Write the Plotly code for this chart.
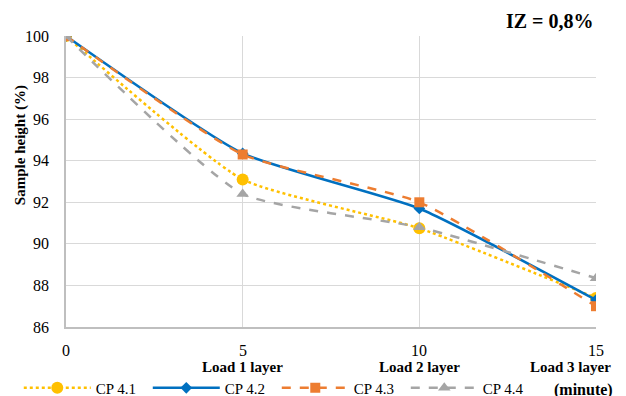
import plotly.graph_objects as go

time_min = [0, 5, 10, 15]
x_tick_labels = ["0", "5", "10", "15"]
y_tick_vals = [86, 88, 90, 92, 94, 96, 98, 100]
load_labels = ["Load 1 layer", "Load 2 layer", "Load 3 layer"]
load_times = [5, 10, 15]
cp41 = [100, 93.1, 90.75, 87.4]
cp42 = [100, 94.35, 91.7, 87.3]
cp43 = [100, 94.3, 92.0, 87.0]
cp44 = [100, 92.4, 90.8, 88.35]

series = [
    ("CP 4.1", cp41, "#FFC000", "dot", "circle", 12),
    ("CP 4.2", cp42, "#0070C0", "solid", "diamond", 9),
    ("CP 4.3", cp43, "#ED7D31", "dash", "square", 10),
    ("CP 4.4", cp44, "#A5A5A5", "dash", "triangle-up", 11),
]

fig = go.Figure()
for name, vals, color, dash, sym, size in series:
    fig.add_trace(go.Scatter(
        x=time_min, y=vals, name=name, mode="lines+markers",
        line=dict(color=color, width=2.5, dash=dash, shape="spline", smoothing=0.5),
        marker=dict(symbol=sym, size=size, color=color),
    ))

FF = "Times New Roman"
annotations = [
    dict(text="<b>IZ = 0,8%</b>", xref="paper", yref="paper", x=1.0, y=1.0,
         xanchor="right", yanchor="bottom", yshift=2, showarrow=False,
         font=dict(size=20, family=FF, color="black")),
    dict(text="<b>(minute)</b>", xref="paper", yref="paper", x=1.036, y=-0.18,
         xanchor="right", yanchor="top", showarrow=False,
         font=dict(size=16, family=FF, color="black")),
    dict(text="<b>Sample height (%)</b>", xref="paper", yref="paper", x=0, y=0.625,
         xanchor="center", yanchor="middle", xshift=-46, textangle=-90, showarrow=False,
         font=dict(size=15, family=FF, color="black")),
]
for t, lab in zip(load_times, load_labels):
    annotations.append(dict(
        text="<b>" + lab + "</b>", xref="x", yref="paper", x=t, y=0,
        xanchor="center", yanchor="middle", yshift=-40,
        xshift=-26 if t == 15 else 0, showarrow=False,
        font=dict(size=15, family=FF, color="black")))
for t, lab in zip(time_min, x_tick_labels):
    annotations.append(dict(
        text=lab, xref="x", yref="paper", x=t, y=0,
        xanchor="center", yanchor="middle", yshift=-23, showarrow=False,
        font=dict(size=16, family=FF, color="black")))
for v in y_tick_vals:
    annotations.append(dict(
        text=str(v), xref="paper", yref="y", x=0, y=v,
        xanchor="right", yanchor="middle", xshift=-15, showarrow=False,
        font=dict(size=16, family=FF, color="black")))

fig.update_layout(
    width=626, height=396,
    margin=dict(l=66, r=30, t=36, b=69, autoexpand=False),
    paper_bgcolor="white", plot_bgcolor="white",
    font=dict(family=FF, size=15, color="black"),
    showlegend=True,
    legend=dict(orientation="h", x=0.03, xanchor="left", xref="container",
                y=0.02, yanchor="middle", yref="container",
                font=dict(size=15, family=FF, color="black"), itemwidth=67,
                entrywidth=47, entrywidthmode="pixels",
                tracegroupgap=0, bgcolor="rgba(0,0,0,0)"),
    xaxis=dict(range=[0, 15], tickmode="array", tickvals=time_min, showticklabels=False,
               showgrid=True, gridcolor="#D9D9D9", gridwidth=1,
               showline=True, linecolor="#BFBFBF", linewidth=2,
               zeroline=False, ticks=""),
    yaxis=dict(range=[86, 100], tickmode="array", tickvals=y_tick_vals, showticklabels=False,
               showgrid=True, gridcolor="#D9D9D9", gridwidth=1,
               showline=True, linecolor="#BFBFBF", linewidth=2,
               zeroline=False, ticks=""),
    annotations=annotations,
)

fig.write_html("out.html")
